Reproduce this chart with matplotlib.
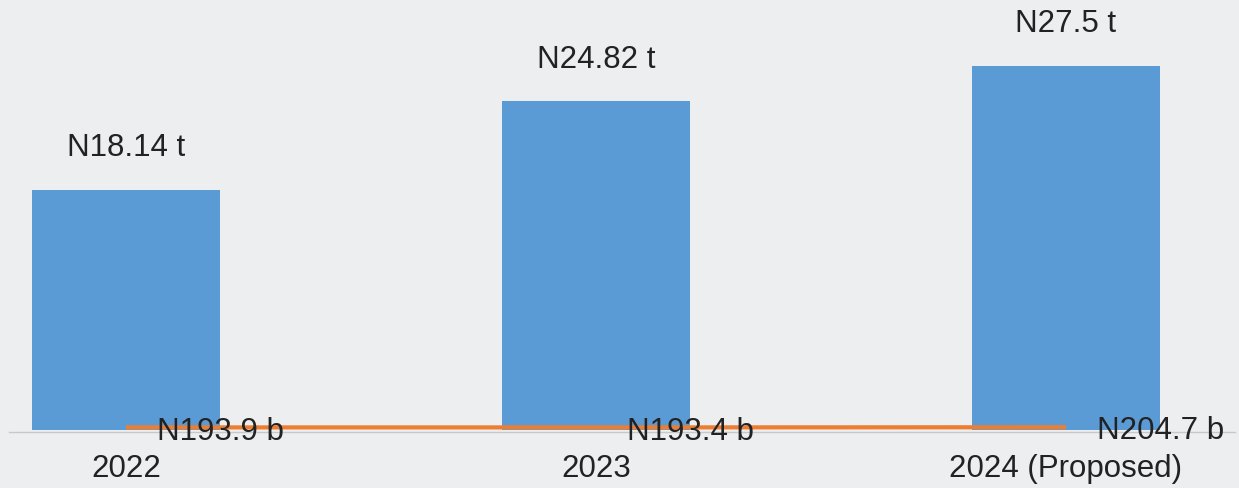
import matplotlib.pyplot as plt
import numpy as np

plt.rcParams['font.family'] = ['Liberation Sans', 'DejaVu Sans']

years = ['2022', '2023', '2024 (Proposed)']
bar_vals = [18.14, 24.82, 27.5]          # trillions
bar_labels = ['N18.14 t', 'N24.82 t', 'N27.5 t']
line_vals = [193.9, 193.4, 204.7]        # billions
line_labels = ['N193.9 b', 'N193.4 b', 'N204.7 b']

bg = '#EDEEF0'
fs = 22.5
fig = plt.figure(figsize=(12.39, 4.88), dpi=100, facecolor=bg)
ax = fig.add_axes([0, 0, 1, 1], facecolor=bg)

x = np.arange(len(years))
ax.bar(x, bar_vals, width=0.4, color='#5B9BD5', zorder=2)
line_t = np.array(line_vals) / 1000.0
ax.plot(x, line_t, color='#ED7D31', lw=3, zorder=3, solid_capstyle='butt')

for i, (v, lab) in enumerate(zip(bar_vals, bar_labels)):
    ax.annotate(lab, (i, v), xytext=(0, 19), textcoords='offset points',
                ha='center', va='bottom', fontsize=fs, color='#222222')
for i, (v, lab) in enumerate(zip(line_t, line_labels)):
    ax.annotate(lab, (i, v), xytext=(68, -3), textcoords='offset points',
                ha='center', va='center', fontsize=fs, color='#222222', zorder=4)

ax.set_xlim(-0.268, 2.368)
ax.set_ylim(-4.38, 32.45)
ax.axhline(-0.12, xmin=9 / 1239, xmax=1235 / 1239, color='#C8C8C8', lw=1, zorder=1)

for s in ax.spines.values():
    s.set_visible(False)
ax.set_yticks([])
ax.set_xticks(x)
ax.set_xticklabels(years)
ax.spines['bottom'].set_position(('data', 0))
ax.tick_params(axis='x', length=0, pad=17, labelsize=fs, labelcolor='#222222')

fig.savefig('out.png', dpi=100, facecolor=bg)
